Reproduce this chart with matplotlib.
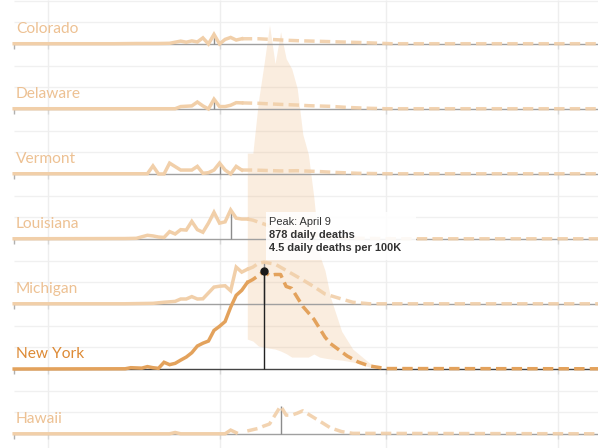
import numpy as np
import matplotlib
matplotlib.use('Agg')
import matplotlib.pyplot as plt
from matplotlib.patches import Rectangle

# days are counted from March 1, values are daily deaths per 100K
month_days = [0, 31, 61, 92]
first_day = -6
last_day = 100
row_step = 3  # rows sit 3 units apart

states = ['Colorado', 'Delaware', 'Vermont', 'Louisiana', 'Michigan', 'New York', 'Hawaii']

colorado_days = [-6, 12, 16, 20, 22, 24, 25, 26, 27, 28, 29, 30, 31, 32, 33, 34, 35, 38, 43, 45, 49, 53, 57, 60, 62, 100]
colorado_vals = [.01, .01, .02, .02, .03, .13, .08, .14, .09, .28, .0, .44, .0, .21, .30, .18, .24, .24, .17, .15, .12, .09, .06, .03, .01, .01]

delaware_days = [-6, 23, 24, 26, 27, 28, 29, 30, 31, 32, 33, 34, 35, 38, 42, 45, 47, 51, 54, 58, 61, 100]
delaware_vals = [.01, .01, .11, .14, .32, .14, 0, .45, .11, .11, .17, .29, .28, .26, .21, .18, .15, .12, .07, .03, .01, .01]

vermont_days = [-6, 18, 19, 20, 21, 22, 23, 24, 25, 26, 27, 28, 29, 30, 31, 32, 33, 34, 35, 37, 42, 45, 49, 52, 56, 61, 100]
vermont_vals = [.01, .01, .37, 0, 0, .50, .34, .18, .18, .18, .35, .03, .06, .18, .50, .18, 0, .35, .18, .18, .14, .15, .11, .07, .03, .01, .01]

louisiana_days = [-6, 14, 16, 18, 19, 20, 21, 22, 23, 24, 25, 26, 27, 28, 29, 30, 31, 32, 33, 34, 35, 36, 37, 39, 42, 46, 51, 56, 62, 100]
louisiana_vals = [.01, .02, .03, .17, .14, .09, .07, .34, .23, .43, .41, .81, .43, .31, .73, 1.23, .73, .79, 1.34, .96, .92, .92, .87, .69, .41, .23, .09, .03, .01, .01]

michigan_days = [-6, 14, 19, 21, 23, 24, 25, 26, 27, 28, 30, 31, 32, 33, 34, 35, 36, 37, 38, 39, 41, 43, 46, 48, 50, 53, 55, 58, 100]
michigan_vals = [.01, .01, .03, .08, .12, .23, .23, .34, .23, .24, .78, .82, .84, .61, 1.70, 1.47, 1.60, 1.70, 1.88, 1.93, 1.84, 1.55, 1.11, .80, .46, .23, .08, .01, .01]

newyork_days = [-6, 14, 15, 16, 17, 18, 19, 20, 21, 22, 23, 24, 25, 26, 27, 28, 29, 30, 31, 32, 33, 34, 35, 36, 37, 38, 39, 40, 41, 42, 43, 44, 46, 48, 50, 51, 54, 56, 58, 61, 100]
newyork_vals = [0, .01, .06, .05, .04, .11, .06, .03, .31, .20, .26, .41, .55, .75, 1.06, 1.19, 1.29, 1.78, 1.97, 2.19, 2.85, 3.40, 3.63, 3.99, 4.13, 4.31, 4.5, 4.31, 4.36, 4.36, 3.81, 3.72, 2.89, 2.30, 1.47, 1.17, .60, .32, .14, .02, .01]

hawaii_days = [-6, 22, 23, 24, 32, 33, 34, 36, 38, 39, 40, 42, 43, 44, 45, 46, 49, 51, 53, 55, 100]
hawaii_vals = [.01, .01, .07, .01, .01, .18, .06, .14, .26, .37, .46, 1.29, .87, .87, .96, 1.07, .60, .28, .11, .03, .01]

series_days = [colorado_days, delaware_days, vermont_days, louisiana_days, michigan_days, newyork_days, hawaii_days]
series_vals = [colorado_vals, delaware_vals, vermont_vals, louisiana_vals, michigan_vals, newyork_vals, hawaii_vals]
peak_days = [30, 30, 31, 33, 39, 39, 42]
forecast_start = [35, 35, 35, 36, 36, 36, 35]

# New York uncertainty band
band_days = [36, 37, 38, 39, 40, 41, 42, 43, 44, 45, 46, 47, 48, 49, 50, 51, 53, 55, 58, 60]
band_upper = [9.96, 9.96, 12.35, 14.05, 15.88, 14.09, 15.56, 14.32, 13.86, 12.94, 10.83, 9.91, 7.89, 5.28, 4.54, 3.30, 1.74, .92, .28, .05]
band_lower = [1.38, 1.29, 1.06, 1.01, .96, .92, .83, .71, .55, .55, .55, .55, .69, .55, .50, .46, .41, .32, .09, .05]

tip_lines = ['Peak: April 9', '878 daily deaths', '4.5 daily deaths per 100K']

W, H = 598, 448
fig = plt.figure(figsize=(W / 100, H / 100), dpi=100)
ax = fig.add_axes([0, 0, 1, 1])
# 5.55 px per day, 21.67 px per unit, Hawaii baseline at y=434 px
ax.set_xlim(-47.5 / 5.55, (W - 47.5) / 5.55)
ax.set_ylim(-14 / 21.67, 434 / 21.67)
ax.axis('off')

light = '#f1cfa9'
strong = '#e3a25c'
lw = 2.5

n = len(states)
for i, name in enumerate(states):
    base = (n - 1 - i) * row_step
    is_ny = name == 'New York'
    days = np.array(series_days[i], dtype=float)
    vals = np.array(series_vals[i]) + base
    col = strong if is_ny else light

    # grid and axis for this row
    ax.hlines([base + 1, base + 2], first_day, last_day, color='#f0f0f0', lw=1, zorder=1)
    ax.hlines(base, first_day, last_day, color='#444444' if is_ny else '#a0a0a0', lw=1, zorder=3)
    ax.vlines(first_day, base - 0.25, base, color='#b0b0b0', lw=1, zorder=2)
    ax.vlines(month_days, base - 0.25, base, color='#d8d8d8', lw=1, zorder=2)

    # peak marker
    ax.vlines(peak_days[i], base, np.interp(peak_days[i], days, vals),
              color='#222222' if is_ny else '#8c8c8c', lw=1, zorder=4)

    # observed part solid, projected part dashed
    s = forecast_start[i]
    past = days <= s
    future = days >= s
    z = 7 if is_ny else 6
    ax.plot(days[past], vals[past], color=col, lw=lw, solid_joinstyle='miter', zorder=z)
    ax.plot(days[future], vals[future], color=col, lw=lw, dashes=(3.0, 1.5),
            dash_capstyle='butt', alpha=1 if is_ny else 0.9, zorder=z)

    ax.text(-5.7, base + 0.51, name, fontsize=11.2, family='Lato', va='baseline', ha='left',
            color='#dd8a35' if is_ny else '#edc193', zorder=8)

ax.vlines(month_days, -14 / 21.67, 434 / 21.67, color='#eeeeee', lw=1, zorder=1)

ny_base = (n - 1 - states.index('New York')) * row_step
ax.fill_between(band_days, np.array(band_upper) + ny_base, np.array(band_lower) + ny_base,
                color='#e8a660', alpha=0.2, lw=0, zorder=2)
ax.plot([39], [4.5 + ny_base], 'o', color='#1a1a1a', ms=5, zorder=9)

# tooltip
ax.add_patch(Rectangle((266 / W, 1 - 260 / H), 150 / W, 48 / H, transform=fig.transFigure,
                       facecolor='white', alpha=0.88, lw=0, zorder=10))
for line, py, weight in zip(tip_lines, [222, 235, 248], ['normal', 'bold', 'bold']):
    ax.text(269 / W, 1 - py / H, line, transform=fig.transFigure, fontsize=7.9, family='Liberation Sans',
            fontweight=weight, va='center', ha='left', color='#333333', zorder=11)

fig.savefig('out.png', dpi=100)
